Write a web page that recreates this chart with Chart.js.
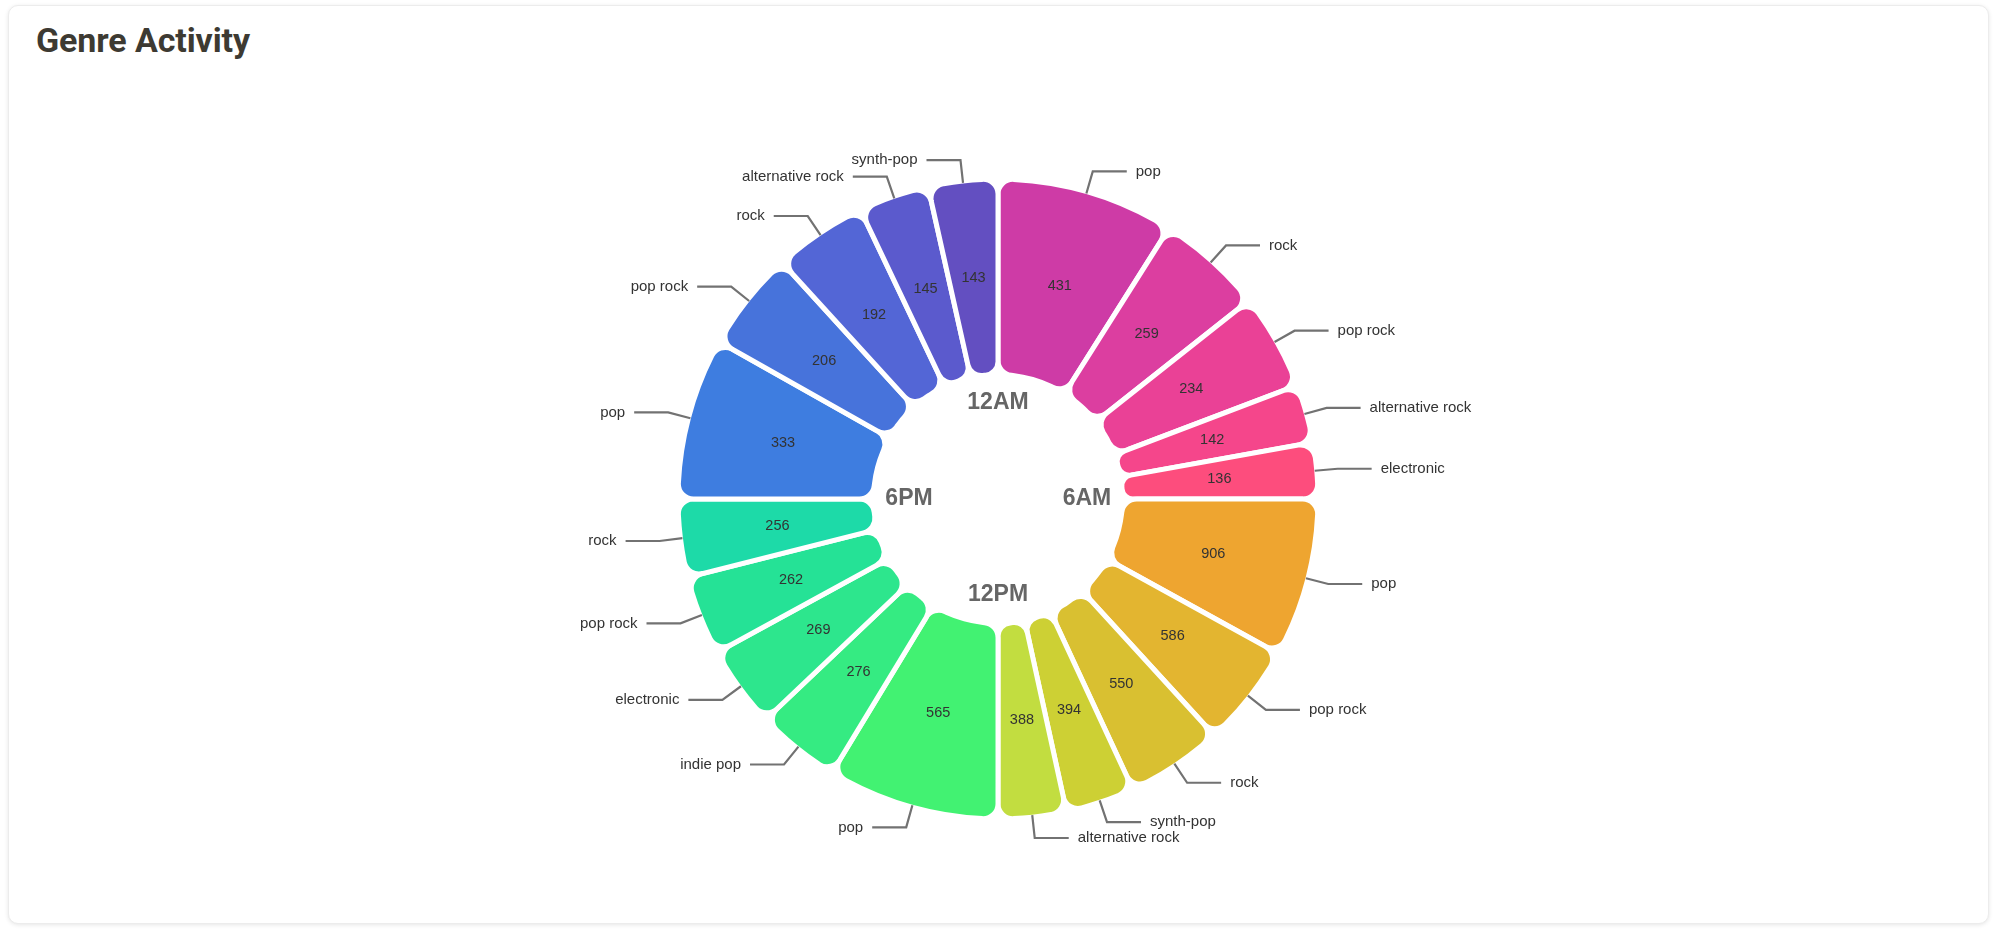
<!DOCTYPE html>
<html>
<head>
<meta charset="utf-8">
<title>Genre Activity</title>
<script src="https://cdn.jsdelivr.net/npm/chart.js@4.4.1/dist/chart.umd.min.js"></script>
<style>
  html, body { margin: 0; padding: 0; background: #fff; width: 2000px; height: 935px; overflow: hidden; }
  .card {
    position: absolute; left: 8px; top: 5px; width: 1981px; height: 919px;
    box-sizing: border-box; border: 1px solid #ececec; border-radius: 10px;
    box-shadow: 0 1px 4px rgba(0, 0, 0, 0.10); background: #fff;
  }
  .card h1 {
    position: absolute; left: 27px; top: 17px; margin: 0;
    font: 700 34px/34px Roboto, sans-serif; color: #3d3a32; letter-spacing: -0.1px;
  }
  #genreChart { position: absolute; left: 0; top: 0; }
</style>
</head>
<body>
<div class="card"><h1>Genre Activity</h1></div>
<canvas id="genreChart" width="2000" height="935"></canvas>
<script>
// time blocks, clockwise from the top
const quarterLabels = ['12AM', '6AM', '12PM', '6PM'];

// 12AM - 6AM
const nightGenres = ['pop', 'rock', 'pop rock', 'alternative rock', 'electronic'];
const nightPlays = [431, 259, 234, 142, 136];
// 6AM - 12PM
const morningGenres = ['pop', 'pop rock', 'rock', 'synth-pop', 'alternative rock'];
const morningPlays = [906, 586, 550, 394, 388];
// 12PM - 6PM
const afternoonGenres = ['pop', 'indie pop', 'electronic', 'pop rock', 'rock'];
const afternoonPlays = [565, 276, 269, 262, 256];
// 6PM - 12AM
const eveningGenres = ['pop', 'pop rock', 'rock', 'alternative rock', 'synth-pop'];
const eveningPlays = [333, 206, 192, 145, 143];

const sliceColors = [
    '#ce3ba6', '#dc3ea0', '#ea4196', '#f5468b', '#fd4d7d',
    '#eea530', '#e3b530', '#d9c031', '#cdd034', '#c2dd40',
    '#42f272', '#35eb82', '#2de68d', '#25e296', '#1ddaa8',
    '#3e7de0', '#4773db', '#5366d6', '#5b5acd', '#634fc1'
];

// every block fills a quarter of the ring, slices share it by their plays
const genres = [];
const plays = [];
const shares = [];
[[nightGenres, nightPlays], [morningGenres, morningPlays],
 [afternoonGenres, afternoonPlays], [eveningGenres, eveningPlays]].forEach(([names, values]) => {
    const total = values.reduce((a, b) => a + b, 0);
    names.forEach((name, i) => {
        genres.push(name);
        plays.push(values[i]);
        shares.push(values[i] / total);
    });
});

const genreLabels = {
    id: 'genreLabels',
    afterDatasetsDraw(chart) {
        const ctx = chart.ctx;
        const arcs = chart.getDatasetMeta(0).data;
        ctx.save();

        arcs.forEach((arc, i) => {
            const { x, y, startAngle, endAngle, outerRadius } =
                arc.getProps(['x', 'y', 'startAngle', 'endAngle', 'outerRadius'], true);
            const mid = (startAngle + endAngle) / 2;
            const cos = Math.cos(mid), sin = Math.sin(mid);

            // value inside the slice
            const c = arc.tooltipPosition(true);
            ctx.font = '14.5px "Liberation Sans", Arial, sans-serif';
            ctx.fillStyle = '#333';
            ctx.textAlign = 'center';
            ctx.textBaseline = 'middle';
            ctx.fillText(String(plays[i]), c.x, c.y);

            // leader line + genre name
            const dir = cos >= 0 ? 1 : -1;
            const r0 = outerRadius - 2;
            const r1 = 341;
            const ex = x + cos * r1, ey = y + sin * r1;
            ctx.strokeStyle = '#727272';
            ctx.lineWidth = 2.2;
            ctx.beginPath();
            ctx.moveTo(x + cos * r0, y + sin * r0);
            ctx.lineTo(ex, ey);
            ctx.lineTo(ex + dir * 34, ey);
            ctx.stroke();

            ctx.font = '15px "Liberation Sans", Arial, sans-serif';
            ctx.fillStyle = '#333';
            ctx.textAlign = dir > 0 ? 'left' : 'right';
            ctx.fillText(genres[i], ex + dir * 43, ey);
        });

        // time-of-day markers in the hole
        const cx = arcs[0].x, cy = arcs[0].y;
        const spots = [[0, -96], [89, 0], [0, 96], [-89, 0]];
        ctx.font = 'bold 23px "Liberation Sans", Arial, sans-serif';
        ctx.fillStyle = '#666';
        ctx.textAlign = 'center';
        ctx.textBaseline = 'middle';
        quarterLabels.forEach((t, i) => {
            ctx.fillText(t, cx + spots[i][0], cy + spots[i][1]);
        });
        ctx.restore();
    }
};

const ctxGenre = document.getElementById('genreChart').getContext('2d');
new Chart(ctxGenre, {
    type: 'doughnut',
    data: {
        labels: genres,
        datasets: [{
            data: shares,
            backgroundColor: sliceColors,
            borderColor: '#fff',
            borderWidth: 5,
            borderRadius: 15,
            hoverOffset: 0
        }]
    },
    options: {
        responsive: false,
        animation: false,
        events: [],
        radius: 320,
        cutout: '38.9%',
        layout: { padding: { left: 600, right: 604, top: 143, bottom: 80 } },
        plugins: { legend: { display: false }, tooltip: { enabled: false } }
    },
    plugins: [genreLabels]
});
</script>
</body>
</html>
